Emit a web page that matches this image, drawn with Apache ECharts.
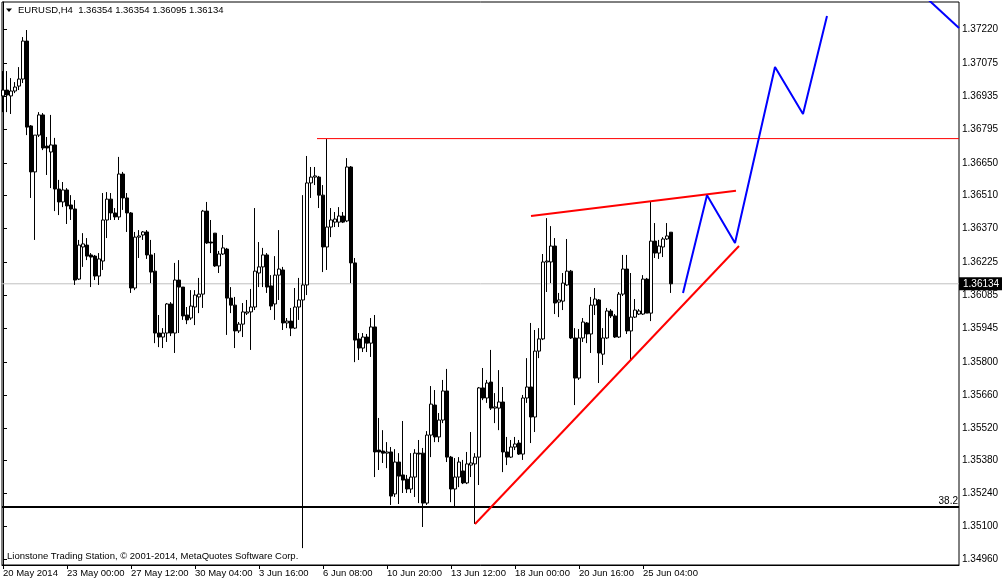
<!DOCTYPE html>
<html><head><meta charset="utf-8">
<script src="https://cdn.jsdelivr.net/npm/echarts@6.0.0/dist/echarts.min.js"></script>
<style>html,body{margin:0;padding:0;background:#fff}#c{width:1002px;height:582px}</style>
</head><body><div id="c"></div>
<script>
// ---- data ----
const symbolTitle = 'EURUSD,H4';
const lastBar = [1.36354, 1.36354, 1.36095, 1.36134]; // O H L C
const copyright = 'Lionstone Trading Station, \u00a9 2001-2014, MetaQuotes Software Corp.';
// [open, close, low, high]
const candles = [
[1.36935,1.36960,1.36866,1.37041],[1.36960,1.36939,1.36866,1.37041],[1.36935,1.36956,1.36858,1.37011],[1.36956,1.36973,1.36947,1.36994],
[1.36977,1.37007,1.36960,1.37058],[1.37007,1.37169,1.36990,1.37186],[1.37169,1.36802,1.36768,1.37216],[1.36807,1.36611,1.36500,1.36811],
[1.36611,1.36768,1.36321,1.36768],[1.36768,1.36854,1.36760,1.36866],[1.36854,1.36713,1.36704,1.36862],[1.36721,1.36713,1.36598,1.36760],
[1.36696,1.36726,1.36542,1.36854],[1.36726,1.36538,1.36444,1.36756],[1.36538,1.36483,1.36427,1.36577],[1.36483,1.36534,1.36461,1.36568],
[1.36534,1.36466,1.36389,1.36542],[1.36470,1.36453,1.36406,1.36512],[1.36453,1.36150,1.36129,1.36491],[1.36154,1.36299,1.36150,1.36321],
[1.36291,1.36304,1.36206,1.36350],[1.36299,1.36252,1.36235,1.36329],[1.36257,1.36248,1.36120,1.36265],[1.36252,1.36167,1.36150,1.36257],
[1.36167,1.36240,1.36129,1.36265],[1.36231,1.36406,1.36193,1.36521],[1.36406,1.36495,1.36329,1.36525],[1.36495,1.36436,1.36406,1.36521],
[1.36436,1.36419,1.36406,1.36457],[1.36419,1.36602,1.36406,1.36675],[1.36602,1.36500,1.36449,1.36611],[1.36500,1.36436,1.36355,1.36521],
[1.36436,1.36116,1.36095,1.36440],[1.36116,1.36333,1.36107,1.36355],[1.36333,1.36338,1.36244,1.36363],[1.36342,1.36355,1.36321,1.36359],
[1.36355,1.36257,1.36240,1.36363],[1.36257,1.36184,1.36137,1.36321],[1.36188,1.35924,1.35881,1.36265],[1.35924,1.35907,1.35864,1.36001],
[1.35907,1.35924,1.35860,1.35945],[1.35924,1.36048,1.35886,1.36052],[1.36048,1.35924,1.35911,1.36056],[1.35924,1.36150,1.35839,1.36223],
[1.36150,1.36120,1.35924,1.36235],[1.36120,1.35997,1.35980,1.36120],[1.36001,1.35980,1.35962,1.36035],[1.35988,1.36039,1.35980,1.36107],
[1.36035,1.36086,1.35958,1.36107],[1.36078,1.36090,1.36009,1.36159],[1.36090,1.36444,1.36031,1.36449],[1.36444,1.36308,1.36304,1.36483],
[1.36312,1.36308,1.36265,1.36406],[1.36350,1.36210,1.36206,1.36350],[1.36210,1.36261,1.36180,1.36274],[1.36261,1.36287,1.36257,1.36342],
[1.36282,1.36073,1.35916,1.36287],[1.36073,1.36043,1.36009,1.36120],[1.36043,1.35933,1.35860,1.36078],[1.35933,1.35962,1.35924,1.35971],
[1.35962,1.36014,1.35907,1.36052],[1.36009,1.36014,1.36001,1.36065],[1.36014,1.36035,1.35852,1.36112],[1.36035,1.36188,1.36022,1.36457],
[1.36180,1.36206,1.36120,1.36312],[1.36206,1.36257,1.36120,1.36287],[1.36257,1.36120,1.36095,1.36265],[1.36125,1.36039,1.36022,1.36171],
[1.36048,1.36171,1.35980,1.36252],[1.36171,1.36197,1.36065,1.36363],[1.36193,1.35967,1.35937,1.36206],[1.35967,1.35975,1.35945,1.35988],
[1.35975,1.35945,1.35911,1.36031],[1.35945,1.36035,1.35941,1.36116],[1.36035,1.36065,1.35980,1.36159],[1.36065,1.36129,1.35007,1.36512],
[1.36129,1.36564,1.36086,1.36679],[1.36564,1.36589,1.36500,1.36632],[1.36589,1.36594,1.36555,1.36632],[1.36589,1.36512,1.36457,1.36594],
[1.36512,1.36291,1.36184,1.36555],[1.36291,1.36376,1.36193,1.36751],[1.36376,1.36406,1.36333,1.36457],[1.36397,1.36410,1.36376,1.36440],
[1.36397,1.36423,1.36376,1.36461],[1.36423,1.36397,1.36393,1.36440],[1.36402,1.36632,1.36397,1.36670],[1.36632,1.36223,1.36137,1.36636],
[1.36223,1.35894,1.35800,1.36244],[1.35899,1.35860,1.35809,1.35924],[1.35860,1.35907,1.35843,1.35924],[1.35907,1.35881,1.35843,1.35920],
[1.35881,1.35950,1.35822,1.35988],[1.35950,1.35417,1.35310,1.36001],[1.35425,1.35417,1.35340,1.35562],[1.35421,1.35412,1.35370,1.35510],
[1.35412,1.35417,1.35348,1.35459],[1.35417,1.35229,1.35191,1.35438],[1.35238,1.35374,1.35225,1.35429],[1.35374,1.35314,1.35195,1.35412],
[1.35319,1.35297,1.35242,1.35549],[1.35301,1.35259,1.35242,1.35319],[1.35259,1.35310,1.35242,1.35412],[1.35310,1.35412,1.35225,1.35429],
[1.35412,1.35408,1.35199,1.35468],[1.35412,1.35199,1.35097,1.35434],[1.35199,1.35489,1.35191,1.35506],[1.35489,1.35621,1.35395,1.35698],
[1.35617,1.35481,1.35459,1.35681],[1.35481,1.35553,1.35459,1.35583],[1.35553,1.35677,1.35540,1.35724],[1.35677,1.35395,1.35374,1.35771],
[1.35395,1.35259,1.35203,1.35400],[1.35259,1.35310,1.35186,1.35391],[1.35310,1.35374,1.35267,1.35395],[1.35336,1.35285,1.35280,1.35383],
[1.35285,1.35366,1.35280,1.35417],[1.35361,1.35370,1.35310,1.35502],[1.35366,1.35395,1.35110,1.35412],[1.35395,1.35690,1.35276,1.35694],
[1.35690,1.35647,1.35638,1.35775],[1.35647,1.35711,1.35626,1.35724],[1.35715,1.35604,1.35596,1.35852],[1.35604,1.35609,1.35540,1.35668],
[1.35604,1.35630,1.35510,1.35766],[1.35630,1.35417,1.35331,1.35694],[1.35417,1.35395,1.35361,1.35481],[1.35395,1.35438,1.35391,1.35468],
[1.35438,1.35451,1.35425,1.35481],[1.35455,1.35408,1.35404,1.35468],[1.35408,1.35647,1.35383,1.35660],[1.35647,1.35694,1.35626,1.35817],
[1.35694,1.35566,1.35455,1.35967],[1.35566,1.35847,1.35502,1.35937],[1.35847,1.35899,1.35817,1.35945],[1.35899,1.36227,1.35894,1.36261],
[1.36227,1.36231,1.36099,1.36414],[1.36227,1.36295,1.36137,1.36380],[1.36295,1.36052,1.36005,1.36329],[1.36056,1.36065,1.35992,1.36095],
[1.36060,1.36137,1.36022,1.36180],[1.36129,1.36188,1.36125,1.36325],[1.36188,1.35903,1.35899,1.36193],[1.35903,1.35732,1.35617,1.35945],
[1.35732,1.35903,1.35724,1.35941],[1.35903,1.35971,1.35886,1.35988],[1.35967,1.35920,1.35881,1.35971],[1.35920,1.36043,1.35839,1.36078],
[1.36043,1.36069,1.36001,1.36116],[1.36065,1.35839,1.35711,1.36069],[1.35834,1.35903,1.35788,1.35945],[1.35903,1.36018,1.35899,1.36031],
[1.36018,1.35997,1.35988,1.36026],[1.35997,1.35907,1.35903,1.36005],[1.35907,1.36090,1.35903,1.36099],[1.36090,1.36197,1.36082,1.36257],
[1.36197,1.35933,1.35920,1.36257],[1.35933,1.35992,1.35809,1.36180],[1.35992,1.36022,1.35988,1.36069],[1.36005,1.36018,1.36001,1.36026],
[1.36005,1.36154,1.36001,1.36171],[1.36154,1.36009,1.36009,1.36159],[1.36009,1.36316,1.35975,1.36483],[1.36316,1.36265,1.36244,1.36393],
[1.36265,1.36295,1.36240,1.36321],[1.36291,1.36325,1.36248,1.36333],[1.36325,1.36338,1.36321,1.36393],[1.36354,1.36134,1.36095,1.36354]
];
const timeTickIndex = [0,16,32,48,64,80,96,112,128,144,160];
const timeTickLabels = ['20 May 2014','23 May 00:00','27 May 12:00','30 May 04:00','3 Jun 16:00','6 Jun 08:00','10 Jun 20:00','13 Jun 12:00','18 Jun 00:00','20 Jun 16:00','25 Jun 04:00'];
const priceTicks = [1.37220,1.37075,1.36935,1.36795,1.36650,1.36510,1.36370,1.36225,1.36085,1.35945,1.35800,1.35660,1.35520,1.35380,1.35240,1.35100,1.34960];
const priceMin = 1.34935, priceMax = 1.373355;
const barSlots = 239;                 // visible bar slots incl. empty space on the right
const fiboLevel = 1.35182, fiboLabel = '38.2';
const resistance = [[78.5, 1.36753], [239, 1.36753]];
const upperTrend = [[132, 1.36423], [183.25, 1.36531]];
const lowerTrend = [[118, 1.35110], [184, 1.36295]];
const projection = [[170, 1.36095], [176, 1.36512], [183, 1.36308], [193, 1.37058], [200, 1.36858], [206, 1.37276]];
const projection2 = [[229, 1.37382], [239, 1.37225]];

// ---- chart ----
const FONT = 'Liberation Sans, Arial, sans-serif';
const chart = echarts.init(document.getElementById('c'), null, {renderer: 'canvas'});
const lastClose = lastBar[3];
const xStart = -0.25;
chart.setOption({
  animation: false,
  backgroundColor: '#fff',
  grid: {left: 2, right: 43, top: 2, bottom: 17, show: true, borderColor: '#000', borderWidth: 1, backgroundColor: '#fff'},
  xAxis: {
    type: 'value', min: xStart, max: barSlots,
    splitLine: {show: false},
    axisLine: {show: true, lineStyle: {color: '#000', width: 1}},
    axisTick: {show: true, customValues: timeTickIndex, length: 4, lineStyle: {color: '#000'}},
    axisLabel: {show: true, customValues: timeTickIndex, align: 'left', margin: 3, color: '#000', fontFamily: FONT, fontSize: 9.5,
      formatter: v => timeTickLabels[timeTickIndex.indexOf(Math.round(v))] || ''}
  },
  yAxis: {
    type: 'value', position: 'right', min: priceMin, max: priceMax, scale: true,
    splitLine: {show: false},
    axisLine: {show: true, lineStyle: {color: '#000', width: 1}},
    axisTick: {show: true, customValues: priceTicks, length: 4, lineStyle: {color: '#000'}},
    axisLabel: {show: true, customValues: priceTicks, margin: 3, color: '#000', fontFamily: FONT, fontSize: 10,
      formatter: v => v.toFixed(5)}
  },
  graphic: [
    {type: 'polygon', shape: {points: [[6, 8.5], [12, 8.5], [9, 12]]}, style: {fill: '#000'}},
    {type: 'text', left: 18, top: 5, style: {text: symbolTitle + '  ' + lastBar.map(v => v.toFixed(5)).join(' '), fill: '#000', font: '9.5px ' + FONT}},
    {type: 'text', left: 7, top: 551, style: {text: copyright, fill: '#000', font: '9.5px ' + FONT}}
  ],
  series: [
    {
      type: 'line', data: [[xStart, lastClose], [barSlots, lastClose]], symbol: 'none', z: 1,
      lineStyle: {color: '#c0c0c0', width: 1},
      endLabel: {show: true, formatter: lastClose.toFixed(5), distance: 0, align: 'left', verticalAlign: 'middle',
        color: '#fff', backgroundColor: '#000', padding: [2, 6, 1, 4], fontFamily: FONT, fontSize: 10}
    },
    {
      type: 'line', data: [[xStart, fiboLevel], [barSlots, fiboLevel]], symbol: 'none', z: 2,
      lineStyle: {color: '#000', width: 2},
      endLabel: {show: true, formatter: fiboLabel, distance: 0, align: 'right', verticalAlign: 'bottom', offset: [-1, -1],
        color: '#000', fontFamily: FONT, fontSize: 10}
    },
    {
      type: 'candlestick', z: 3,
      data: candles.map((c, i) => [i, c[0], c[1], c[2], c[3]]),
      encode: {x: 0, y: [1, 2, 3, 4]},
      barWidth: 3,
      itemStyle: {color: '#fff', color0: '#000', borderColor: '#000', borderColor0: '#000', borderWidth: 1}
    },
    {type: 'line', data: resistance, symbol: 'none', z: 4, lineStyle: {color: '#ff0000', width: 1}},
    {type: 'line', data: upperTrend, symbol: 'none', z: 4, lineStyle: {color: '#ff0000', width: 2}},
    {type: 'line', data: lowerTrend, symbol: 'none', z: 4, lineStyle: {color: '#ff0000', width: 2}},
    {type: 'line', data: projection, symbol: 'none', z: 4, lineStyle: {color: '#0000ff', width: 2}},
    {type: 'line', data: projection2, symbol: 'none', z: 4, lineStyle: {color: '#0000ff', width: 2}}
  ]
});
</script></body></html>
